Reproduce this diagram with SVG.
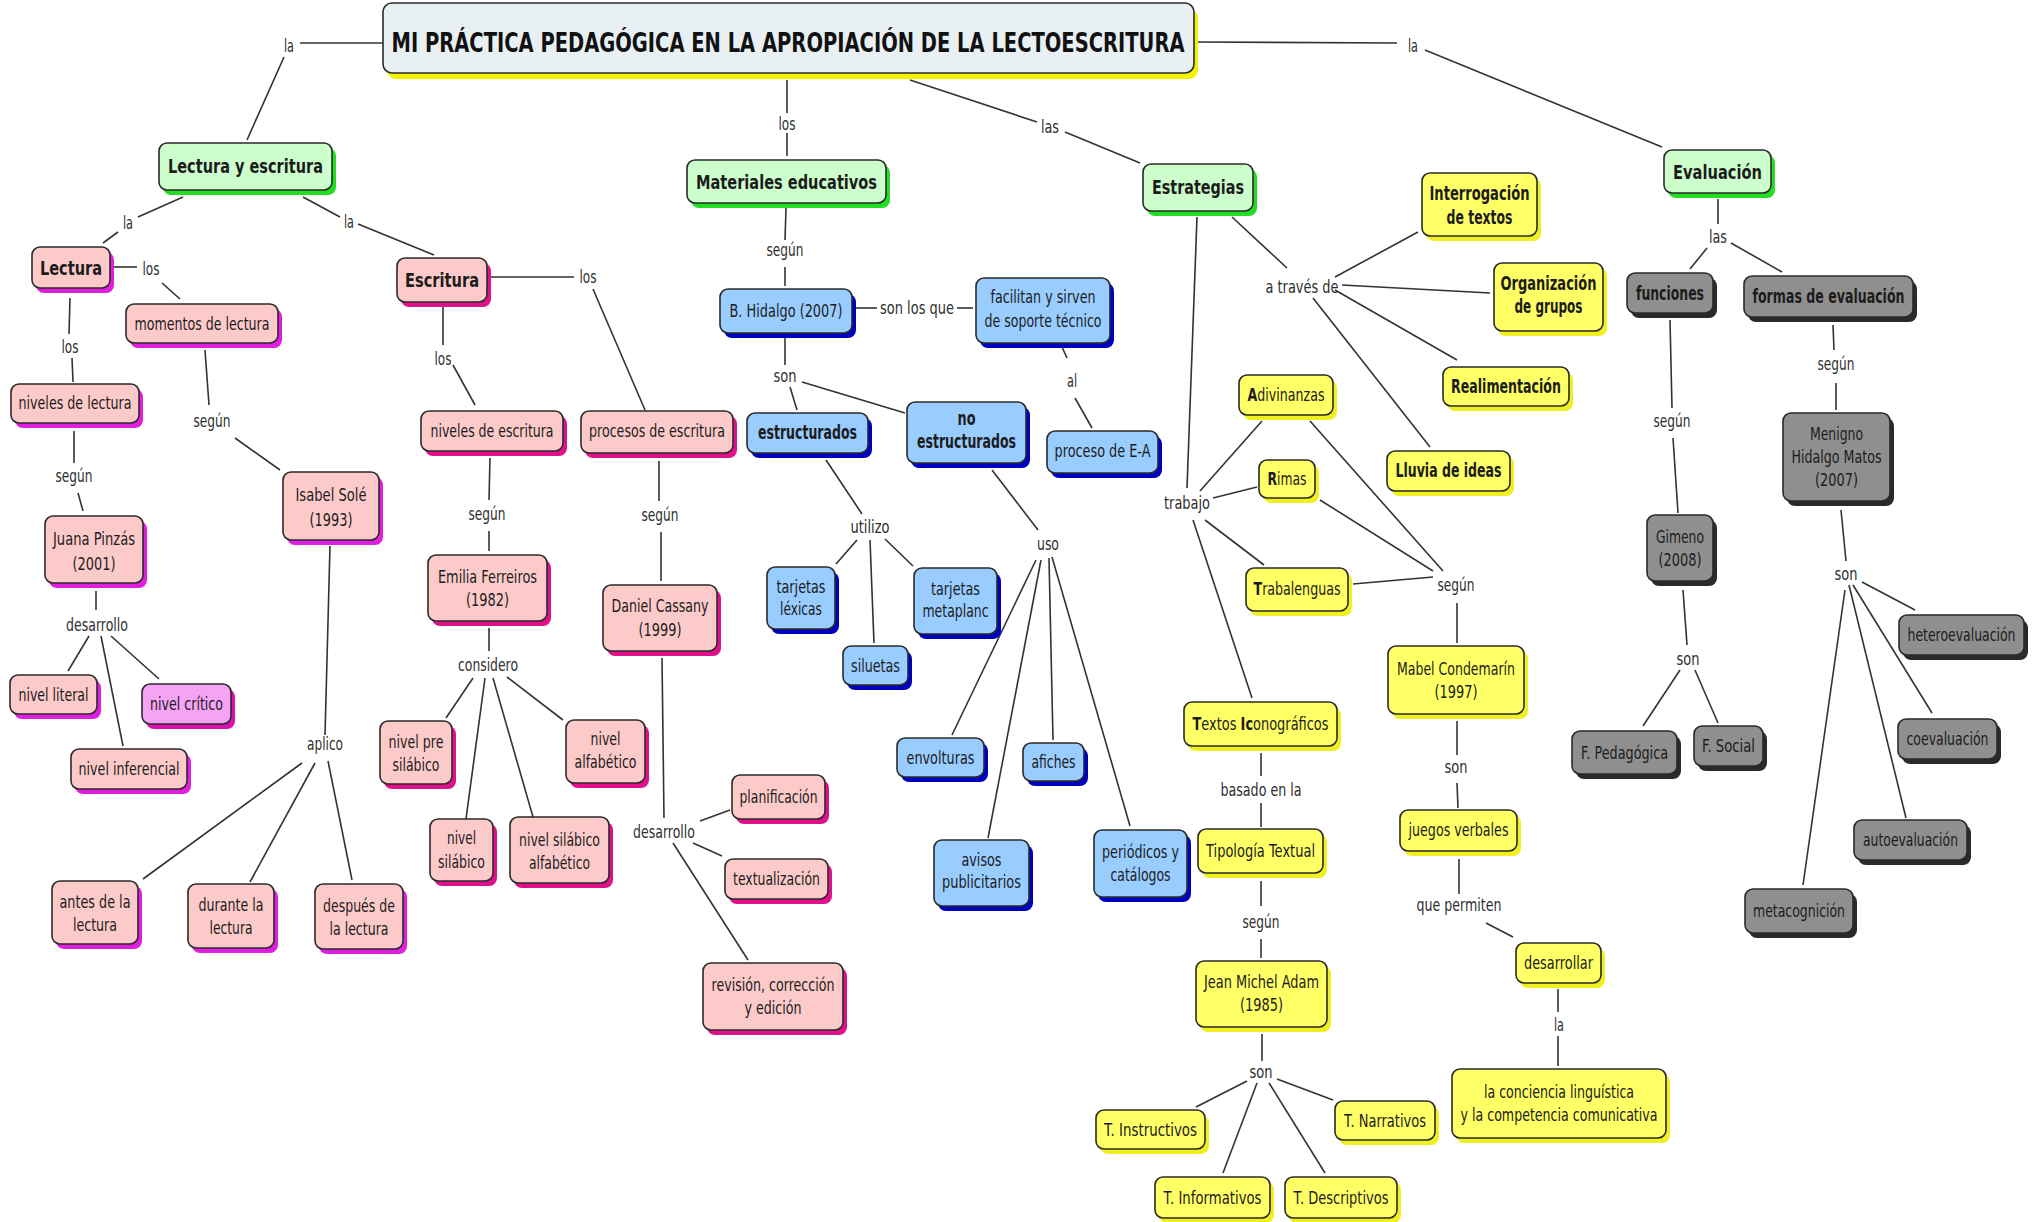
<svg xmlns="http://www.w3.org/2000/svg" width="2039" height="1222" viewBox="0 0 2039 1222">
<style>
text{font-family:"DejaVu Sans","Liberation Sans",sans-serif;font-size:17px;fill:#1c1c1c;text-anchor:middle}
text.b{font-weight:bold;font-size:20px}
text.tt{font-weight:bold;font-size:26px;fill:#111}
.lbl text{fill:#2e2e2e}
.bx{stroke:#2a2a2a;stroke-width:1.6}
.sh{stroke:none}
.ti .bx{fill:#e8f0f3}.ti .sh{fill:#f2f200}
.gr .bx{fill:#ccffcc}.gr .sh{fill:#22dd22}
.pa .bx{fill:#fdcaca}.pa .sh{fill:#e01ee0}
.pb .bx{fill:#fdcaca}.pb .sh{fill:#e0108a}
.vi .bx{fill:#f5a3f5}.vi .sh{fill:#d810b0}
.bl .bx{fill:#99ccff}.bl .sh{fill:#0000c0}
.ye .bx{fill:#ffff66}.ye .sh{fill:#f0f020}
.gy .bx{fill:#8f8f8f}.gy .sh{fill:#2a2a2a}
#connectors line{stroke:#333;stroke-width:1.6}
</style>

<g id="connectors">
<line x1="300" y1="43" x2="383" y2="43"/>
<line x1="284" y1="57" x2="247" y2="140"/>
<line x1="183" y1="197" x2="138" y2="217"/>
<line x1="118" y1="232" x2="103" y2="243"/>
<line x1="303" y1="197" x2="340" y2="217"/>
<line x1="358" y1="224" x2="434" y2="255"/>
<line x1="114" y1="267" x2="137" y2="267"/>
<line x1="162" y1="283" x2="180" y2="299"/>
<line x1="70" y1="298" x2="69" y2="334"/>
<line x1="72" y1="358" x2="73" y2="382"/>
<line x1="74" y1="431" x2="74" y2="463"/>
<line x1="78" y1="493" x2="83" y2="511"/>
<line x1="96" y1="591" x2="96" y2="610"/>
<line x1="89" y1="636" x2="68" y2="671"/>
<line x1="101" y1="636" x2="123" y2="746"/>
<line x1="111" y1="636" x2="159" y2="679"/>
<line x1="205" y1="350" x2="209" y2="405"/>
<line x1="235" y1="438" x2="280" y2="470"/>
<line x1="330" y1="546" x2="325" y2="735"/>
<line x1="302" y1="763" x2="143" y2="879"/>
<line x1="315" y1="763" x2="250" y2="882"/>
<line x1="328" y1="761" x2="352" y2="880"/>
<line x1="489" y1="277" x2="574" y2="277"/>
<line x1="593" y1="289" x2="645" y2="410"/>
<line x1="443" y1="307" x2="443" y2="345"/>
<line x1="453" y1="365" x2="475" y2="405"/>
<line x1="490" y1="458" x2="489" y2="500"/>
<line x1="489" y1="531" x2="489" y2="551"/>
<line x1="489" y1="628" x2="489" y2="651"/>
<line x1="473" y1="678" x2="446" y2="718"/>
<line x1="485" y1="678" x2="466" y2="819"/>
<line x1="493" y1="678" x2="533" y2="817"/>
<line x1="507" y1="677" x2="563" y2="720"/>
<line x1="659" y1="461" x2="659" y2="501"/>
<line x1="661" y1="532" x2="661" y2="581"/>
<line x1="662" y1="658" x2="664" y2="818"/>
<line x1="700" y1="821" x2="730" y2="810"/>
<line x1="693" y1="843" x2="722" y2="856"/>
<line x1="673" y1="843" x2="748" y2="960"/>
<line x1="787" y1="80" x2="787" y2="113"/>
<line x1="787" y1="133" x2="787" y2="156"/>
<line x1="786" y1="208" x2="785" y2="240"/>
<line x1="785" y1="267" x2="785" y2="286"/>
<line x1="854" y1="308" x2="877" y2="308"/>
<line x1="957" y1="308" x2="973" y2="308"/>
<line x1="785" y1="338" x2="785" y2="365"/>
<line x1="790" y1="387" x2="797" y2="410"/>
<line x1="802" y1="382" x2="905" y2="413"/>
<line x1="826" y1="460" x2="862" y2="514"/>
<line x1="857" y1="540" x2="836" y2="564"/>
<line x1="870" y1="540" x2="874" y2="643"/>
<line x1="885" y1="539" x2="913" y2="566"/>
<line x1="992" y1="470" x2="1038" y2="530"/>
<line x1="1036" y1="560" x2="952" y2="735"/>
<line x1="1041" y1="560" x2="988" y2="838"/>
<line x1="1049" y1="558" x2="1053" y2="740"/>
<line x1="1052" y1="557" x2="1130" y2="826"/>
<line x1="1062" y1="347" x2="1067" y2="358"/>
<line x1="1075" y1="398" x2="1092" y2="428"/>
<line x1="910" y1="80" x2="1037" y2="122"/>
<line x1="1065" y1="132" x2="1140" y2="163"/>
<line x1="1197" y1="217" x2="1187" y2="488"/>
<line x1="1232" y1="217" x2="1287" y2="268"/>
<line x1="1335" y1="277" x2="1418" y2="232"/>
<line x1="1342" y1="285" x2="1490" y2="293"/>
<line x1="1335" y1="290" x2="1457" y2="360"/>
<line x1="1313" y1="298" x2="1430" y2="447"/>
<line x1="1200" y1="491" x2="1262" y2="421"/>
<line x1="1213" y1="498" x2="1257" y2="487"/>
<line x1="1205" y1="520" x2="1264" y2="565"/>
<line x1="1193" y1="520" x2="1252" y2="698"/>
<line x1="1310" y1="421" x2="1443" y2="571"/>
<line x1="1320" y1="500" x2="1433" y2="571"/>
<line x1="1353" y1="584" x2="1433" y2="577"/>
<line x1="1457" y1="603" x2="1457" y2="643"/>
<line x1="1457" y1="721" x2="1457" y2="755"/>
<line x1="1457" y1="783" x2="1458" y2="808"/>
<line x1="1261" y1="753" x2="1261" y2="776"/>
<line x1="1261" y1="803" x2="1261" y2="827"/>
<line x1="1261" y1="881" x2="1261" y2="906"/>
<line x1="1261" y1="939" x2="1261" y2="958"/>
<line x1="1262" y1="1034" x2="1262" y2="1061"/>
<line x1="1247" y1="1081" x2="1196" y2="1107"/>
<line x1="1257" y1="1083" x2="1223" y2="1173"/>
<line x1="1269" y1="1083" x2="1325" y2="1173"/>
<line x1="1277" y1="1079" x2="1333" y2="1100"/>
<line x1="1459" y1="859" x2="1459" y2="894"/>
<line x1="1486" y1="923" x2="1513" y2="937"/>
<line x1="1558" y1="989" x2="1558" y2="1012"/>
<line x1="1558" y1="1036" x2="1558" y2="1066"/>
<line x1="1198" y1="42" x2="1397" y2="43"/>
<line x1="1425" y1="50" x2="1662" y2="147"/>
<line x1="1718" y1="199" x2="1718" y2="224"/>
<line x1="1707" y1="248" x2="1690" y2="269"/>
<line x1="1731" y1="243" x2="1782" y2="272"/>
<line x1="1670" y1="320" x2="1672" y2="408"/>
<line x1="1673" y1="438" x2="1678" y2="513"/>
<line x1="1833" y1="325" x2="1834" y2="350"/>
<line x1="1836" y1="383" x2="1836" y2="410"/>
<line x1="1683" y1="590" x2="1687" y2="645"/>
<line x1="1680" y1="670" x2="1643" y2="726"/>
<line x1="1695" y1="670" x2="1718" y2="723"/>
<line x1="1841" y1="510" x2="1846" y2="561"/>
<line x1="1862" y1="582" x2="1915" y2="610"/>
<line x1="1853" y1="585" x2="1932" y2="713"/>
<line x1="1849" y1="585" x2="1906" y2="818"/>
<line x1="1845" y1="590" x2="1803" y2="885"/>
</g>

<g id="labels" class="lbl">
<text x="289" y="52" textLength="10" lengthAdjust="spacingAndGlyphs">la</text>
<text x="128" y="229" textLength="10" lengthAdjust="spacingAndGlyphs">la</text>
<text x="349" y="228" textLength="10" lengthAdjust="spacingAndGlyphs">la</text>
<text x="151" y="275" textLength="17" lengthAdjust="spacingAndGlyphs">los</text>
<text x="70" y="353" textLength="17" lengthAdjust="spacingAndGlyphs">los</text>
<text x="74" y="482" textLength="37" lengthAdjust="spacingAndGlyphs">según</text>
<text x="97" y="631" textLength="62" lengthAdjust="spacingAndGlyphs">desarrollo</text>
<text x="212" y="427" textLength="37" lengthAdjust="spacingAndGlyphs">según</text>
<text x="325" y="750" textLength="36" lengthAdjust="spacingAndGlyphs">aplico</text>
<text x="588" y="283" textLength="17" lengthAdjust="spacingAndGlyphs">los</text>
<text x="443" y="365" textLength="17" lengthAdjust="spacingAndGlyphs">los</text>
<text x="487" y="520" textLength="37" lengthAdjust="spacingAndGlyphs">según</text>
<text x="488" y="671" textLength="60" lengthAdjust="spacingAndGlyphs">considero</text>
<text x="660" y="521" textLength="37" lengthAdjust="spacingAndGlyphs">según</text>
<text x="664" y="838" textLength="62" lengthAdjust="spacingAndGlyphs">desarrollo</text>
<text x="787" y="130" textLength="17" lengthAdjust="spacingAndGlyphs">los</text>
<text x="785" y="256" textLength="37" lengthAdjust="spacingAndGlyphs">según</text>
<text x="917" y="314" textLength="74" lengthAdjust="spacingAndGlyphs">son los que</text>
<text x="785" y="382" textLength="23" lengthAdjust="spacingAndGlyphs">son</text>
<text x="870" y="533" textLength="39" lengthAdjust="spacingAndGlyphs">utilizo</text>
<text x="1048" y="550" textLength="22" lengthAdjust="spacingAndGlyphs">uso</text>
<text x="1072" y="387" textLength="10" lengthAdjust="spacingAndGlyphs">al</text>
<text x="1050" y="133" textLength="18" lengthAdjust="spacingAndGlyphs">las</text>
<text x="1302" y="293" textLength="73" lengthAdjust="spacingAndGlyphs">a través de</text>
<text x="1187" y="509" textLength="46" lengthAdjust="spacingAndGlyphs">trabajo</text>
<text x="1456" y="591" textLength="37" lengthAdjust="spacingAndGlyphs">según</text>
<text x="1456" y="773" textLength="23" lengthAdjust="spacingAndGlyphs">son</text>
<text x="1261" y="796" textLength="81" lengthAdjust="spacingAndGlyphs">basado en la</text>
<text x="1261" y="928" textLength="37" lengthAdjust="spacingAndGlyphs">según</text>
<text x="1261" y="1078" textLength="23" lengthAdjust="spacingAndGlyphs">son</text>
<text x="1459" y="911" textLength="85" lengthAdjust="spacingAndGlyphs">que permiten</text>
<text x="1559" y="1031" textLength="10" lengthAdjust="spacingAndGlyphs">la</text>
<text x="1413" y="52" textLength="10" lengthAdjust="spacingAndGlyphs">la</text>
<text x="1718" y="243" textLength="18" lengthAdjust="spacingAndGlyphs">las</text>
<text x="1672" y="427" textLength="37" lengthAdjust="spacingAndGlyphs">según</text>
<text x="1836" y="370" textLength="37" lengthAdjust="spacingAndGlyphs">según</text>
<text x="1688" y="665" textLength="23" lengthAdjust="spacingAndGlyphs">son</text>
<text x="1846" y="580" textLength="23" lengthAdjust="spacingAndGlyphs">son</text>
</g>

<g id="titulo" class="ti"><rect class="sh" x="387" y="9" width="811" height="70" rx="9"/><rect class="bx" x="383" y="3" width="811" height="70" rx="9"/><text class="tt" x="788" y="52" textLength="793" lengthAdjust="spacingAndGlyphs">MI PRÁCTICA PEDAGÓGICA EN LA APROPIACIÓN DE LA LECTOESCRITURA</text></g>

<g id="lectura-y-escritura" class="gr"><rect class="sh" x="163" y="148" width="173" height="47" rx="8"/><rect class="bx" x="159" y="143" width="173" height="47" rx="8"/><text class="b" x="245.5" y="173" textLength="155" lengthAdjust="spacingAndGlyphs">Lectura y escritura</text></g>
<g id="materiales" class="gr"><rect class="sh" x="691" y="165" width="199" height="43" rx="8"/><rect class="bx" x="687" y="160" width="199" height="43" rx="8"/><text class="b" x="786.5" y="189" textLength="181" lengthAdjust="spacingAndGlyphs">Materiales educativos</text></g>
<g id="estrategias" class="gr"><rect class="sh" x="1147" y="169" width="110" height="47" rx="8"/><rect class="bx" x="1143" y="164" width="110" height="47" rx="8"/><text class="b" x="1198" y="194" textLength="92" lengthAdjust="spacingAndGlyphs">Estrategias</text></g>
<g id="evaluacion" class="gr"><rect class="sh" x="1668" y="155" width="107" height="43" rx="8"/><rect class="bx" x="1664" y="150" width="107" height="43" rx="8"/><text class="b" x="1717.5" y="179" textLength="89" lengthAdjust="spacingAndGlyphs">Evaluación</text></g>

<g id="lectura" class="pa"><rect class="sh" x="36" y="252" width="78" height="41" rx="8"/><rect class="bx" x="32" y="247" width="78" height="41" rx="8"/><text class="b" x="71" y="275" textLength="62" lengthAdjust="spacingAndGlyphs">Lectura</text></g>
<g id="momentos" class="pa"><rect class="sh" x="130" y="309" width="152" height="39" rx="8"/><rect class="bx" x="126" y="304" width="152" height="39" rx="8"/><text x="202" y="330" textLength="135" lengthAdjust="spacingAndGlyphs">momentos de lectura</text></g>
<g id="niveles-lectura" class="pa"><rect class="sh" x="15" y="389" width="128" height="39" rx="8"/><rect class="bx" x="11" y="384" width="128" height="39" rx="8"/><text x="75" y="409" textLength="113" lengthAdjust="spacingAndGlyphs">niveles de lectura</text></g>
<g id="juana" class="pa"><rect class="sh" x="49" y="521" width="98" height="67" rx="8"/><rect class="bx" x="45" y="516" width="98" height="67" rx="8"/><text x="94" y="545" textLength="82" lengthAdjust="spacingAndGlyphs">Juana Pinzás</text><text x="94" y="570" textLength="43" lengthAdjust="spacingAndGlyphs">(2001)</text></g>
<g id="nivel-literal" class="pa"><rect class="sh" x="14" y="680" width="87" height="39" rx="8"/><rect class="bx" x="10" y="675" width="87" height="39" rx="8"/><text x="53.5" y="701" textLength="70" lengthAdjust="spacingAndGlyphs">nivel literal</text></g>
<g id="nivel-critico" class="vi"><rect class="sh" x="146" y="689" width="89" height="40" rx="8"/><rect class="bx" x="142" y="684" width="89" height="40" rx="8"/><text x="186.5" y="710" textLength="73" lengthAdjust="spacingAndGlyphs">nivel crítico</text></g>
<g id="nivel-inferencial" class="pa"><rect class="sh" x="75" y="754" width="116" height="40" rx="8"/><rect class="bx" x="71" y="749" width="116" height="40" rx="8"/><text x="129" y="775" textLength="101" lengthAdjust="spacingAndGlyphs">nivel inferencial</text></g>
<g id="isabel" class="pa"><rect class="sh" x="287" y="477" width="96" height="68" rx="8"/><rect class="bx" x="283" y="472" width="96" height="68" rx="8"/><text x="331" y="501" textLength="71" lengthAdjust="spacingAndGlyphs">Isabel Solé</text><text x="331" y="526" textLength="43" lengthAdjust="spacingAndGlyphs">(1993)</text></g>
<g id="antes" class="pa"><rect class="sh" x="56" y="886" width="86" height="63" rx="8"/><rect class="bx" x="52" y="881" width="86" height="63" rx="8"/><text x="95" y="908" textLength="71" lengthAdjust="spacingAndGlyphs">antes de la</text><text x="95" y="931" textLength="44" lengthAdjust="spacingAndGlyphs">lectura</text></g>
<g id="durante" class="pa"><rect class="sh" x="192" y="889" width="86" height="64" rx="8"/><rect class="bx" x="188" y="884" width="86" height="64" rx="8"/><text x="231" y="911" textLength="65" lengthAdjust="spacingAndGlyphs">durante la</text><text x="231" y="934" textLength="43" lengthAdjust="spacingAndGlyphs">lectura</text></g>
<g id="despues" class="pa"><rect class="sh" x="319" y="889" width="88" height="65" rx="8"/><rect class="bx" x="315" y="884" width="88" height="65" rx="8"/><text x="359" y="912" textLength="72" lengthAdjust="spacingAndGlyphs">después de</text><text x="359" y="935" textLength="59" lengthAdjust="spacingAndGlyphs">la lectura</text></g>

<g id="escritura" class="pb"><rect class="sh" x="401" y="263" width="90" height="44" rx="8"/><rect class="bx" x="397" y="258" width="90" height="44" rx="8"/><text class="b" x="442" y="287" textLength="74" lengthAdjust="spacingAndGlyphs">Escritura</text></g>
<g id="niveles-escritura" class="pb"><rect class="sh" x="425" y="416" width="142" height="40" rx="8"/><rect class="bx" x="421" y="411" width="142" height="40" rx="8"/><text x="492" y="437" textLength="123" lengthAdjust="spacingAndGlyphs">niveles de escritura</text></g>
<g id="procesos" class="pb"><rect class="sh" x="585" y="416" width="152" height="42" rx="8"/><rect class="bx" x="581" y="411" width="152" height="42" rx="8"/><text x="657" y="437" textLength="136" lengthAdjust="spacingAndGlyphs">procesos de escritura</text></g>
<g id="emilia" class="pb"><rect class="sh" x="432" y="560" width="119" height="66" rx="8"/><rect class="bx" x="428" y="555" width="119" height="66" rx="8"/><text x="487.5" y="583" textLength="99" lengthAdjust="spacingAndGlyphs">Emilia Ferreiros</text><text x="487.5" y="606" textLength="43" lengthAdjust="spacingAndGlyphs">(1982)</text></g>
<g id="pre-silabico" class="pb"><rect class="sh" x="384" y="726" width="72" height="63" rx="8"/><rect class="bx" x="380" y="721" width="72" height="63" rx="8"/><text x="416" y="748" textLength="55" lengthAdjust="spacingAndGlyphs">nivel pre</text><text x="416" y="771" textLength="47" lengthAdjust="spacingAndGlyphs">silábico</text></g>
<g id="silabico" class="pb"><rect class="sh" x="434" y="824" width="63" height="62" rx="8"/><rect class="bx" x="430" y="819" width="63" height="62" rx="8"/><text x="461.5" y="844" textLength="29" lengthAdjust="spacingAndGlyphs">nivel</text><text x="461.5" y="868" textLength="47" lengthAdjust="spacingAndGlyphs">silábico</text></g>
<g id="silabico-alfabetico" class="pb"><rect class="sh" x="514" y="822" width="99" height="66" rx="8"/><rect class="bx" x="510" y="817" width="99" height="66" rx="8"/><text x="559.5" y="846" textLength="81" lengthAdjust="spacingAndGlyphs">nivel silábico</text><text x="559.5" y="869" textLength="61" lengthAdjust="spacingAndGlyphs">alfabético</text></g>
<g id="alfabetico" class="pb"><rect class="sh" x="570" y="725" width="79" height="63" rx="8"/><rect class="bx" x="566" y="720" width="79" height="63" rx="8"/><text x="605.5" y="745" textLength="30" lengthAdjust="spacingAndGlyphs">nivel</text><text x="605.5" y="768" textLength="62" lengthAdjust="spacingAndGlyphs">alfabético</text></g>
<g id="cassany" class="pb"><rect class="sh" x="607" y="590" width="114" height="66" rx="8"/><rect class="bx" x="603" y="585" width="114" height="66" rx="8"/><text x="660" y="612" textLength="97" lengthAdjust="spacingAndGlyphs">Daniel Cassany</text><text x="660" y="636" textLength="43" lengthAdjust="spacingAndGlyphs">(1999)</text></g>
<g id="planificacion" class="pb"><rect class="sh" x="736" y="780" width="93" height="44" rx="8"/><rect class="bx" x="732" y="775" width="93" height="44" rx="8"/><text x="778.5" y="803" textLength="78" lengthAdjust="spacingAndGlyphs">planificación</text></g>
<g id="textualizacion" class="pb"><rect class="sh" x="729" y="864" width="103" height="40" rx="8"/><rect class="bx" x="725" y="859" width="103" height="40" rx="8"/><text x="776.5" y="885" textLength="87" lengthAdjust="spacingAndGlyphs">textualización</text></g>
<g id="revision" class="pb"><rect class="sh" x="707" y="968" width="140" height="67" rx="8"/><rect class="bx" x="703" y="963" width="140" height="67" rx="8"/><text x="773" y="991" textLength="123" lengthAdjust="spacingAndGlyphs">revisión, corrección</text><text x="773" y="1014" textLength="57" lengthAdjust="spacingAndGlyphs">y edición</text></g>

<g id="hidalgo" class="bl"><rect class="sh" x="724" y="294" width="132" height="44" rx="8"/><rect class="bx" x="720" y="289" width="132" height="44" rx="8"/><text x="786" y="317" textLength="113" lengthAdjust="spacingAndGlyphs">B. Hidalgo (2007)</text></g>
<g id="facilitan" class="bl"><rect class="sh" x="980" y="283" width="134" height="65" rx="8"/><rect class="bx" x="976" y="278" width="134" height="65" rx="8"/><text x="1043" y="303" textLength="105" lengthAdjust="spacingAndGlyphs">facilitan y sirven</text><text x="1043" y="327" textLength="117" lengthAdjust="spacingAndGlyphs">de soporte técnico</text></g>
<g id="estructurados" class="bl"><rect class="sh" x="751" y="418" width="121" height="40" rx="8"/><rect class="bx" x="747" y="413" width="121" height="40" rx="8"/><text class="b" x="807.5" y="439" textLength="99" lengthAdjust="spacingAndGlyphs">estructurados</text></g>
<g id="no-estructurados" class="bl"><rect class="sh" x="911" y="407" width="119" height="61" rx="8"/><rect class="bx" x="907" y="402" width="119" height="61" rx="8"/><text class="b" x="966.5" y="425" textLength="18" lengthAdjust="spacingAndGlyphs">no</text><text class="b" x="966.5" y="448" textLength="99" lengthAdjust="spacingAndGlyphs">estructurados</text></g>
<g id="proceso-ea" class="bl"><rect class="sh" x="1051" y="436" width="111" height="42" rx="8"/><rect class="bx" x="1047" y="431" width="111" height="42" rx="8"/><text x="1102.5" y="457" textLength="96" lengthAdjust="spacingAndGlyphs">proceso de E-A</text></g>
<g id="tarjetas-lexicas" class="bl"><rect class="sh" x="771" y="572" width="68" height="62" rx="8"/><rect class="bx" x="767" y="567" width="68" height="62" rx="8"/><text x="801" y="593" textLength="49" lengthAdjust="spacingAndGlyphs">tarjetas</text><text x="801" y="615" textLength="42" lengthAdjust="spacingAndGlyphs">léxicas</text></g>
<g id="tarjetas-metaplanc" class="bl"><rect class="sh" x="918" y="573" width="83" height="66" rx="8"/><rect class="bx" x="914" y="568" width="83" height="66" rx="8"/><text x="955.5" y="595" textLength="49" lengthAdjust="spacingAndGlyphs">tarjetas</text><text x="955.5" y="617" textLength="66" lengthAdjust="spacingAndGlyphs">metaplanc</text></g>
<g id="siluetas" class="bl"><rect class="sh" x="847" y="651" width="65" height="39" rx="8"/><rect class="bx" x="843" y="646" width="65" height="39" rx="8"/><text x="875.5" y="672" textLength="49" lengthAdjust="spacingAndGlyphs">siluetas</text></g>
<g id="envolturas" class="bl"><rect class="sh" x="901" y="743" width="87" height="39" rx="8"/><rect class="bx" x="897" y="738" width="87" height="39" rx="8"/><text x="940.5" y="764" textLength="68" lengthAdjust="spacingAndGlyphs">envolturas</text></g>
<g id="afiches" class="bl"><rect class="sh" x="1027" y="748" width="61" height="38" rx="8"/><rect class="bx" x="1023" y="743" width="61" height="38" rx="8"/><text x="1053.5" y="768" textLength="44" lengthAdjust="spacingAndGlyphs">afiches</text></g>
<g id="avisos" class="bl"><rect class="sh" x="938" y="845" width="95" height="66" rx="8"/><rect class="bx" x="934" y="840" width="95" height="66" rx="8"/><text x="981.5" y="866" textLength="40" lengthAdjust="spacingAndGlyphs">avisos</text><text x="981.5" y="888" textLength="79" lengthAdjust="spacingAndGlyphs">publicitarios</text></g>
<g id="periodicos" class="bl"><rect class="sh" x="1098" y="835" width="93" height="67" rx="8"/><rect class="bx" x="1094" y="830" width="93" height="67" rx="8"/><text x="1140.5" y="858" textLength="77" lengthAdjust="spacingAndGlyphs">periódicos y</text><text x="1140.5" y="881" textLength="60" lengthAdjust="spacingAndGlyphs">catálogos</text></g>

<g id="interrogacion" class="ye"><rect class="sh" x="1426" y="178" width="115" height="63" rx="8"/><rect class="bx" x="1422" y="173" width="115" height="63" rx="8"/><text class="b" x="1479.5" y="200" textLength="100" lengthAdjust="spacingAndGlyphs">Interrogación</text><text class="b" x="1479.5" y="224" textLength="66" lengthAdjust="spacingAndGlyphs">de textos</text></g>
<g id="organizacion" class="ye"><rect class="sh" x="1498" y="268" width="109" height="68" rx="8"/><rect class="bx" x="1494" y="263" width="109" height="68" rx="8"/><text class="b" x="1548.5" y="290" textLength="96" lengthAdjust="spacingAndGlyphs">Organización</text><text class="b" x="1548.5" y="313" textLength="68" lengthAdjust="spacingAndGlyphs">de grupos</text></g>
<g id="realimentacion" class="ye"><rect class="sh" x="1447" y="372" width="126" height="39" rx="8"/><rect class="bx" x="1443" y="367" width="126" height="39" rx="8"/><text class="b" x="1506" y="393" textLength="110" lengthAdjust="spacingAndGlyphs">Realimentación</text></g>
<g id="lluvia" class="ye"><rect class="sh" x="1391" y="456" width="123" height="40" rx="8"/><rect class="bx" x="1387" y="451" width="123" height="40" rx="8"/><text class="b" x="1448.5" y="477" textLength="106" lengthAdjust="spacingAndGlyphs">Lluvia de ideas</text></g>
<g id="adivinanzas" class="ye"><rect class="sh" x="1243" y="380" width="94" height="40" rx="8"/><rect class="bx" x="1239" y="375" width="94" height="40" rx="8"/><text x="1286" y="401" textLength="77" lengthAdjust="spacingAndGlyphs"><tspan font-weight="bold">A</tspan>divinanzas</text></g>
<g id="rimas" class="ye"><rect class="sh" x="1263" y="465" width="56" height="38" rx="8"/><rect class="bx" x="1259" y="460" width="56" height="38" rx="8"/><text x="1287" y="485" textLength="39" lengthAdjust="spacingAndGlyphs"><tspan font-weight="bold">R</tspan>imas</text></g>
<g id="trabalenguas" class="ye"><rect class="sh" x="1250" y="573" width="102" height="43" rx="8"/><rect class="bx" x="1246" y="568" width="102" height="43" rx="8"/><text x="1297" y="595" textLength="87" lengthAdjust="spacingAndGlyphs"><tspan font-weight="bold">T</tspan>rabalenguas</text></g>
<g id="textos-iconograficos" class="ye"><rect class="sh" x="1188" y="707" width="153" height="44" rx="8"/><rect class="bx" x="1184" y="702" width="153" height="44" rx="8"/><text x="1260.5" y="730" textLength="136" lengthAdjust="spacingAndGlyphs"><tspan font-weight="bold">T</tspan>extos <tspan font-weight="bold">Ic</tspan>onográficos</text></g>
<g id="tipologia" class="ye"><rect class="sh" x="1202" y="834" width="125" height="44" rx="8"/><rect class="bx" x="1198" y="829" width="125" height="44" rx="8"/><text x="1260.5" y="857" textLength="109" lengthAdjust="spacingAndGlyphs">Tipología Textual</text></g>
<g id="adam" class="ye"><rect class="sh" x="1200" y="966" width="131" height="66" rx="8"/><rect class="bx" x="1196" y="961" width="131" height="66" rx="8"/><text x="1261.5" y="988" textLength="115" lengthAdjust="spacingAndGlyphs">Jean Michel Adam</text><text x="1261.5" y="1011" textLength="43" lengthAdjust="spacingAndGlyphs">(1985)</text></g>
<g id="instructivos" class="ye"><rect class="sh" x="1100" y="1115" width="109" height="39" rx="8"/><rect class="bx" x="1096" y="1110" width="109" height="39" rx="8"/><text x="1150.5" y="1136" textLength="93" lengthAdjust="spacingAndGlyphs">T. Instructivos</text></g>
<g id="informativos" class="ye"><rect class="sh" x="1159" y="1182" width="115" height="41" rx="8"/><rect class="bx" x="1155" y="1177" width="115" height="41" rx="8"/><text x="1212.5" y="1204" textLength="98" lengthAdjust="spacingAndGlyphs">T. Informativos</text></g>
<g id="descriptivos" class="ye"><rect class="sh" x="1289" y="1182" width="112" height="41" rx="8"/><rect class="bx" x="1285" y="1177" width="112" height="41" rx="8"/><text x="1341" y="1204" textLength="95" lengthAdjust="spacingAndGlyphs">T. Descriptivos</text></g>
<g id="narrativos" class="ye"><rect class="sh" x="1339" y="1106" width="100" height="39" rx="8"/><rect class="bx" x="1335" y="1101" width="100" height="39" rx="8"/><text x="1385" y="1127" textLength="82" lengthAdjust="spacingAndGlyphs">T. Narrativos</text></g>
<g id="mabel" class="ye"><rect class="sh" x="1392" y="651" width="136" height="68" rx="8"/><rect class="bx" x="1388" y="646" width="136" height="68" rx="8"/><text x="1456" y="675" textLength="118" lengthAdjust="spacingAndGlyphs">Mabel Condemarín</text><text x="1456" y="698" textLength="43" lengthAdjust="spacingAndGlyphs">(1997)</text></g>
<g id="juegos" class="ye"><rect class="sh" x="1404" y="815" width="117" height="41" rx="8"/><rect class="bx" x="1400" y="810" width="117" height="41" rx="8"/><text x="1458.5" y="836" textLength="100" lengthAdjust="spacingAndGlyphs">juegos verbales</text></g>
<g id="desarrollar" class="ye"><rect class="sh" x="1520" y="948" width="85" height="40" rx="8"/><rect class="bx" x="1516" y="943" width="85" height="40" rx="8"/><text x="1558.5" y="969" textLength="69" lengthAdjust="spacingAndGlyphs">desarrollar</text></g>
<g id="conciencia" class="ye"><rect class="sh" x="1456" y="1074" width="214" height="69" rx="8"/><rect class="bx" x="1452" y="1069" width="214" height="69" rx="8"/><text x="1559" y="1098" textLength="150" lengthAdjust="spacingAndGlyphs">la conciencia linguística</text><text x="1559" y="1121" textLength="197" lengthAdjust="spacingAndGlyphs">y la competencia comunicativa</text></g>

<g id="funciones" class="gy"><rect class="sh" x="1631" y="278" width="86" height="40" rx="8"/><rect class="bx" x="1627" y="273" width="86" height="40" rx="8"/><text class="b" x="1670" y="300" textLength="68" lengthAdjust="spacingAndGlyphs">funciones</text></g>
<g id="formas" class="gy"><rect class="sh" x="1748" y="281" width="169" height="41" rx="8"/><rect class="bx" x="1744" y="276" width="169" height="41" rx="8"/><text class="b" x="1828.5" y="303" textLength="152" lengthAdjust="spacingAndGlyphs">formas de evaluación</text></g>
<g id="gimeno" class="gy"><rect class="sh" x="1651" y="520" width="66" height="66" rx="8"/><rect class="bx" x="1647" y="515" width="66" height="66" rx="8"/><text x="1680" y="543" textLength="48" lengthAdjust="spacingAndGlyphs">Gimeno</text><text x="1680" y="566" textLength="43" lengthAdjust="spacingAndGlyphs">(2008)</text></g>
<g id="f-pedagogica" class="gy"><rect class="sh" x="1576" y="736" width="105" height="43" rx="8"/><rect class="bx" x="1572" y="731" width="105" height="43" rx="8"/><text x="1624.5" y="759" textLength="87" lengthAdjust="spacingAndGlyphs">F. Pedagógica</text></g>
<g id="f-social" class="gy"><rect class="sh" x="1698" y="731" width="69" height="40" rx="8"/><rect class="bx" x="1694" y="726" width="69" height="40" rx="8"/><text x="1728.5" y="752" textLength="53" lengthAdjust="spacingAndGlyphs">F. Social</text></g>
<g id="menigno" class="gy"><rect class="sh" x="1787" y="418" width="107" height="88" rx="8"/><rect class="bx" x="1783" y="413" width="107" height="88" rx="8"/><text x="1836.5" y="440" textLength="53" lengthAdjust="spacingAndGlyphs">Menigno</text><text x="1836.5" y="463" textLength="90" lengthAdjust="spacingAndGlyphs">Hidalgo Matos</text><text x="1836.5" y="486" textLength="43" lengthAdjust="spacingAndGlyphs">(2007)</text></g>
<g id="heteroevaluacion" class="gy"><rect class="sh" x="1903" y="620" width="125" height="40" rx="8"/><rect class="bx" x="1899" y="615" width="125" height="40" rx="8"/><text x="1961.5" y="641" textLength="108" lengthAdjust="spacingAndGlyphs">heteroevaluación</text></g>
<g id="coevaluacion" class="gy"><rect class="sh" x="1902" y="724" width="99" height="40" rx="8"/><rect class="bx" x="1898" y="719" width="99" height="40" rx="8"/><text x="1947.5" y="745" textLength="82" lengthAdjust="spacingAndGlyphs">coevaluación</text></g>
<g id="autoevaluacion" class="gy"><rect class="sh" x="1858" y="825" width="113" height="40" rx="8"/><rect class="bx" x="1854" y="820" width="113" height="40" rx="8"/><text x="1910.5" y="846" textLength="95" lengthAdjust="spacingAndGlyphs">autoevaluación</text></g>
<g id="metacognicion" class="gy"><rect class="sh" x="1749" y="894" width="108" height="44" rx="8"/><rect class="bx" x="1745" y="889" width="108" height="44" rx="8"/><text x="1799" y="917" textLength="92" lengthAdjust="spacingAndGlyphs">metacognición</text></g>
</svg>
